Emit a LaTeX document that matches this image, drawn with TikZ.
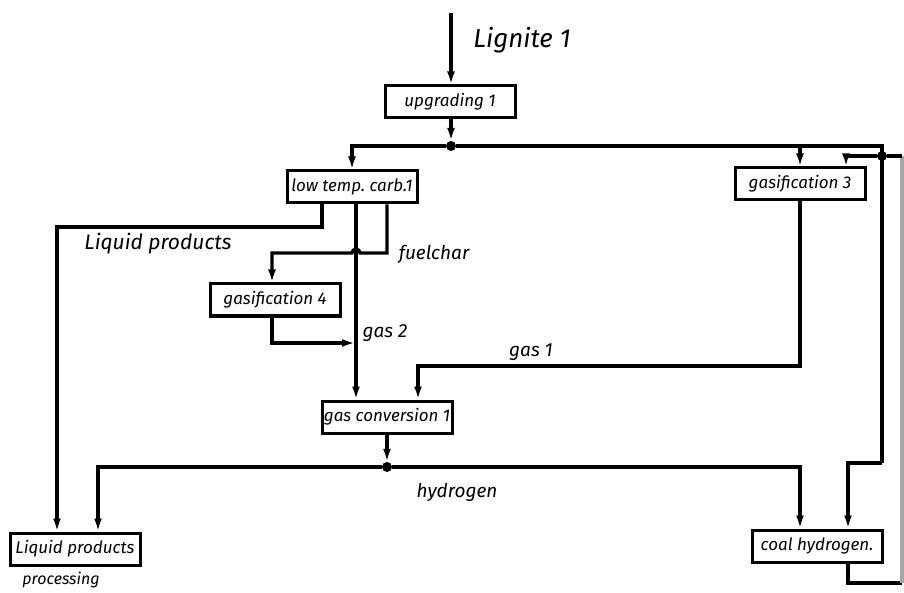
\documentclass[tikz,border=0pt]{standalone}
\usepackage{fontspec}
\setmainfont{Fira Sans}
\usetikzlibrary{arrows.meta}

\begin{document}
\begin{tikzpicture}[x=1pt,y=-1pt,
    unit/.style={draw,line width=3pt,minimum width=130pt,minimum height=32pt,inner sep=1pt,font=\fontsize{17}{19}\selectfont\itshape},
    flow/.style={line width=3.2pt,-{Latex[length=13pt,width=8pt]}},
    pipe/.style={line width=3.2pt},
    tag/.style={font=\fontsize{19}{21}\selectfont\itshape},
    joint/.style={circle,fill,inner sep=0pt,minimum size=10pt}]
    \useasboundingbox (0,0) rectangle (904,593);

    \node[unit] (up) at (450,102) {upgrading 1};
    \node[unit] (ltc) at (352,187) {low temp.\ carb.1};
    \node[unit] (gf3) at (800,184) {gasification 3};
    \node[unit] (gf4) at (275,300) {gasification 4};
    \node[unit] (gcv) at (387,417) {gas conversion 1};
    \node[unit] (lpp) at (75,549) {Liquid products};
    \node[unit] (chy) at (817,546) {coal hydrogen.};

    \node[joint] (j1) at (451,146) {};
    \node[joint] (j2) at (882,156) {};
    \node[joint] (j3) at (387,467) {};

    \coordinate (feed) at (451,13);
    \coordinate (rtop) at (882,146);
    \coordinate (rbot) at (882,463);
    \coordinate (edge) at (902,583);
    \coordinate (lq) at (57,227);
    \coordinate (fc) at (387,253);
    \coordinate (g2) at (355,343);
    \coordinate (g1) at (418,366);

    \draw[flow] (feed) -- (feed |- up.north);
    \draw[flow] (j1 |- up.south) -- (j1);
    \draw[flow] (j1) -| (ltc.north);
    \draw[pipe] (j1) -- (rtop) -- (rbot);
    \draw[flow] (rbot) -| ([xshift=31pt]chy.north);
    \draw[flow] (gf3.north |- j1) -- (gf3.north);
    \draw[flow] (j2) -| ([xshift=46pt]gf3.north);
    \draw[pipe] ([xshift=31pt]chy.south) |- (edge);
    \draw[pipe,black!35] (edge) -- (edge |- j2);
    \draw[pipe] (edge |- j2) -- (j2);

    \draw[flow] ([xshift=-30pt]ltc.south) |- (lq) -- (lq |- lpp.north);
    \draw[flow] ([xshift=4pt]ltc.south) -- ([xshift=-31pt]gcv.north);
    \draw[flow] ([xshift=35pt]ltc.south) -- (fc) -- ([xshift=-27pt]fc) arc (0:-180:4) -| ([xshift=-3pt]gf4.north);
    \draw[flow] ([xshift=-3pt]gf4.south) |- (g2);
    \draw[flow] (gf3.south) |- (g1) -- (g1 |- gcv.north);
    \draw[flow] (gcv.south) -- (j3);
    \draw[flow] (j3) -| ([xshift=23pt]lpp.north);
    \draw[flow] (j3) -| ([xshift=-17pt]chy.north);

    \node[tag,font=\fontsize{26}{28}\selectfont\itshape] (lig) at (522,40) {Lignite 1};
    \node[tag,font=\fontsize{21}{23}\selectfont\itshape] (lqtag) at (158,244) {Liquid products};
    \node[tag] (fctag) at (434,254) {fuelchar};
    \node[tag] (g2tag) at (385,333) {gas 2};
    \node[tag] (g1tag) at (531,352) {gas 1};
    \node[tag] (h2tag) at (457,492) {hydrogen};
    \node[tag,font=\fontsize{16}{18}\selectfont\itshape] (proc) at (61,580) {processing};
\end{tikzpicture}
\end{document}
